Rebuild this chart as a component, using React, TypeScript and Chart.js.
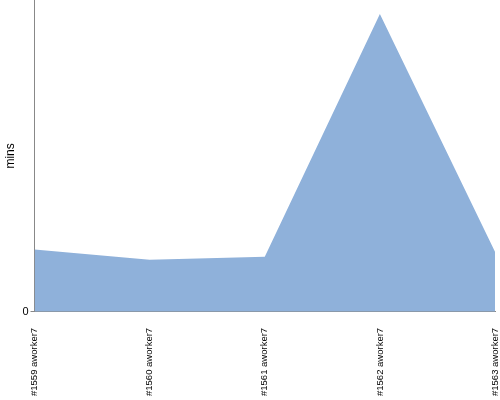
import React, { useEffect, useRef } from "react";
import { Chart, registerables } from "chart.js";

Chart.register(...registerables);

const categories = ["#1559 aworker7", "#1560 aworker7", "#1561 aworker7", "#1562 aworker7", "#1563 aworker7"];
const minsValues = [2.0, 1.67, 1.77, 9.55, 1.93];
const yMax = 10;
const yTickValues = [0];

export default function App() {
  const ref = useRef<HTMLCanvasElement>(null);
  useEffect(() => {
    document.body.style.margin = "0";
    const chart = new Chart(ref.current!, {
      type: "line",
      data: {
        labels: categories,
        datasets: [
          {
            data: minsValues,
            fill: "origin",
            backgroundColor: "#8fb1da",
            borderColor: "#8fb1da",
            borderWidth: 0,
            pointRadius: 0,
            tension: 0,
          },
        ],
      },
      options: {
        animation: false,
        responsive: false,
        maintainAspectRatio: false,
        layout: { padding: { top: 0, right: 5, left: 0, bottom: 0 } },
        plugins: { legend: { display: false }, tooltip: { enabled: false } },
        scales: {
          x: {
            offset: false,
            grid: { display: false },
            border: { color: "#888888" },
            afterFit: (axis: any) => {
              axis.paddingRight = 0;
              axis.paddingLeft = 0;
              axis.height = axis.height - 4;
            },
            ticks: {
              maxRotation: 90,
              minRotation: 90,
              autoSkip: false,
              color: "#000000",
              font: { family: "Liberation Sans", size: 9.5 },
              padding: 8,
            },
          },
          y: {
            min: 0,
            max: yMax,
            afterBuildTicks: (axis: any) => {
              axis.ticks = yTickValues.map((v) => ({ value: v }));
            },
            afterFit: (axis: any) => {
              axis.paddingTop = 0;
            },
            grid: { drawOnChartArea: false, tickLength: 4, color: "#888888" },
            border: { color: "#888888" },
            ticks: {
              color: "#000000",
              font: { family: "Liberation Sans", size: 11 },
              padding: 2,
            },
            title: {
              display: true,
              text: "mins",
              color: "#000000",
              font: { family: "Liberation Sans", size: 12 },
              padding: { top: 3, bottom: 3 },
            },
          },
        },
      },
    });
    return () => chart.destroy();
  }, []);
  return <canvas ref={ref} width={500} height={400} style={{ display: "block" }} />;
}
